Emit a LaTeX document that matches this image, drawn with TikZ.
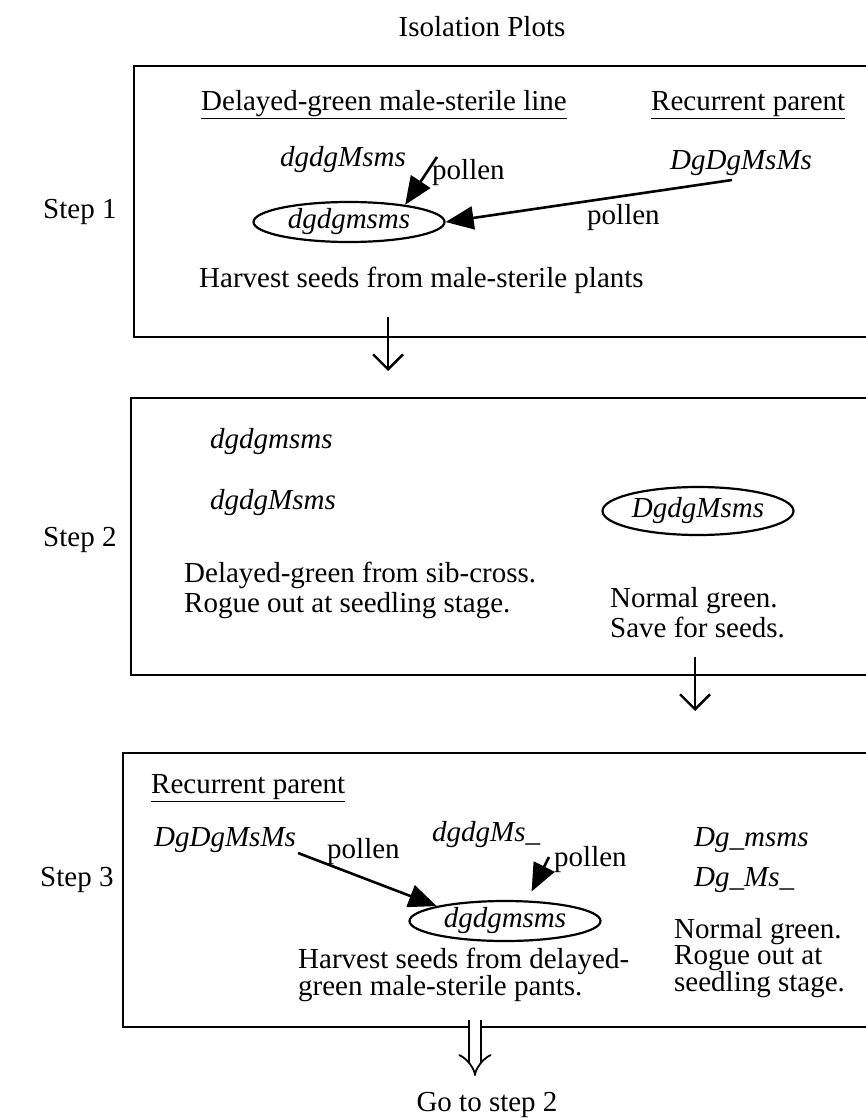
\documentclass[tikz,border=0pt]{standalone}
\usepackage{fontspec}
\setmainfont{Liberation Serif}
\usepackage{tikz}
\usetikzlibrary{arrows.meta,positioning,shapes.geometric,calc}
\newcommand{\plotfont}{\fontsize{29}{30}\selectfont}
\newcommand{\tightfont}{\fontsize{29}{25}\selectfont}
\tikzset{
  plaintext/.style={
    font=\plotfont, inner sep=0pt, align=left, anchor=west
  },
  genotype/.style={
    plaintext, font=\plotfont\itshape
  },
  stepname/.style={
    font=\plotfont, inner sep=0pt, anchor=#1
  },
  stepname/.default=west,
  crossoval/.style={
    ellipse, draw, line width=2.2pt,
    minimum width=191pt, minimum height=#1,
    inner sep=0pt, font=\plotfont\itshape
  },
  crossoval/.default=42pt,
  plotbox/.style={
    line width=2.6pt
  },
  pollenarrow/.style={
    -{Triangle[length=28pt,width=23pt]}, line width=2.6pt
  },
  nextarrow/.style={
    -{Straight Barb[length=15pt,width=30pt]}, line width=2.4pt
  },
  looparrow/.style={
    double, double distance=10pt, line width=1.8pt,
    -{Implies[scale=1.3]}
  },
}

\begin{document}
\begin{tikzpicture}[x=1pt,y=-1pt]
  \useasboundingbox (0,0) rectangle (866,1118);

  \node[stepname=center] (title) at (482,27) {Isolation Plots};

  % ── Step 1 ──
  \coordinate (b1tr) at (866,66);
  \coordinate (b1bl) at (134,337);
  \draw[plotbox] (b1tr) -| (b1bl) -- (b1bl -| b1tr);
  \node[stepname] (step1) at (43,212) {Step 1};

  \node[plaintext] (dgline) at (201,105) {\underline{Delayed-green male-sterile line}};
  \node[plaintext] (recur1) at (651,105) {\underline{Recurrent parent}};
  \node[genotype] (sib1) at (280,160) {dgdgMsms};
  \node[plaintext] (pollenA) at (432,173) {pollen};
  \node[genotype] (rp1) at (670,163) {DgDgMsMs};
  \node[plaintext] (pollenB) at (587,218) {pollen};
  \node[crossoval=40pt] (oval1) at (349,222) {dgdgmsms};
  \node[plaintext] (harvest1) at (199,280) {Harvest seeds from male-sterile plants};

  \coordinate (pol1) at (437,157);
  \coordinate (pol2) at (732,180);
  \draw[pollenarrow] (pol1) -- (oval1.17);
  \draw[pollenarrow] (pol2) -- (oval1.east);

  \coordinate (next1s) at (388,317);
  \coordinate (next1e) at (388,371);
  \draw[nextarrow] (next1s) -- (next1e);

  % ── Step 2 ──
  \coordinate (b2tr) at (866,398);
  \coordinate (b2bl) at (131,675);
  \draw[plotbox] (b2tr) -| (b2bl) -- (b2bl -| b2tr);
  \node[stepname] (step2) at (43,540) {Step 2};

  \node[genotype] (ster2) at (210,442) {dgdgmsms};
  \node[genotype] (sib2) at (210,503) {dgdgMsms};
  \node[crossoval=48pt] (oval2) at (698,511) {DgdgMsms};
  \node[plaintext] (rogue2) at (184,590) {Delayed-green from sib-cross.\\Rogue out at seedling stage.};
  \node[plaintext] (save2) at (610,613) {Normal green.\\Save for seeds.};

  \coordinate (next2s) at (695,657);
  \coordinate (next2e) at (695,711);
  \draw[nextarrow] (next2s) -- (next2e);

  % ── Step 3 ──
  \coordinate (b3tr) at (866,753);
  \coordinate (b3bl) at (123,1027);
  \draw[plotbox] (b3tr) -| (b3bl) -- (b3bl -| b3tr);
  \node[stepname] (step3) at (40,880) {Step 3};

  \node[plaintext] (recur3) at (151,788) {\underline{Recurrent parent}};
  \node[genotype] (rp3) at (154,840) {DgDgMsMs};
  \node[plaintext] (pollenC) at (327,852) {pollen};
  \node[genotype] (sib3) at (432,835) {dgdgMs\_};
  \node[plaintext] (pollenD) at (554,860) {pollen};
  \node[crossoval=40pt] (oval3) at (505,921) {dgdgmsms};
  \node[plaintext, font=\tightfont] (harvest3) at (298,975) {Harvest seeds from delayed-\\green male-sterile pants.};
  \node[genotype] (nm3) at (694,840) {Dg\_msms};
  \node[genotype] (nM3) at (694,880) {Dg\_Ms\_};
  \node[plaintext, font=\tightfont] (rogue3) at (674,958) {Normal green.\\Rogue out at\\seedling stage.};

  \coordinate (pol3) at (298,853);
  \coordinate (pol4) at (549,857);
  \draw[pollenarrow] (pol3) -- (oval3.north west);
  \draw[pollenarrow, shorten >=10pt] (pol4) -- (oval3.43);

  % back to step 2
  \coordinate (backs) at (475,1020);
  \coordinate (backe) at (475,1076);
  \node[stepname=center] (goto) at (487,1105) {Go to step 2};
  \draw[looparrow] (backs) -- (backe);
\end{tikzpicture}
\end{document}
